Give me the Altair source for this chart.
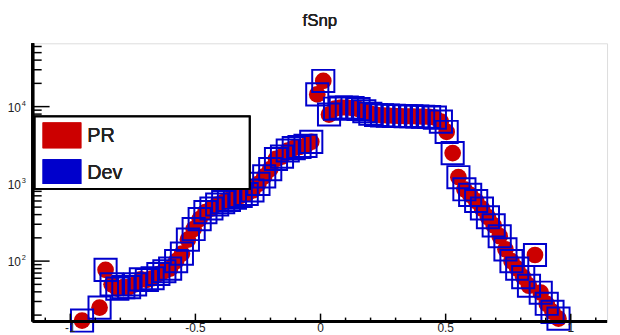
import altair as alt
import pandas as pd

title_text = "fSnp"
series_names = ["PR", "Dev"]
series_colors = ["#cc0000", "#0000cc"]

x_centers = [-0.953, -0.883, -0.859, -0.835, -0.812, -0.788, -0.765, -0.741, -0.718, -0.694,
             -0.671, -0.648, -0.624, -0.601, -0.577, -0.554, -0.530, -0.507, -0.483, -0.460,
             -0.436, -0.413, -0.389, -0.366, -0.342, -0.319, -0.295, -0.272, -0.248, -0.225,
             -0.201, -0.178, -0.154, -0.131, -0.107, -0.084, -0.060, -0.037, -0.013, 0.011,
             0.034, 0.058, 0.081, 0.105, 0.128, 0.152, 0.175, 0.199, 0.222, 0.246,
             0.269, 0.293, 0.316, 0.340, 0.363, 0.387, 0.410, 0.434, 0.457, 0.481,
             0.504, 0.528, 0.551, 0.575, 0.598, 0.622, 0.645, 0.669, 0.692, 0.716,
             0.739, 0.763, 0.786, 0.810, 0.833, 0.857, 0.880, 0.904, 0.927, 0.951]

pr_counts = [17, 25, 77, 50, 44, 46, 46, 50, 58, 57,
             60, 68, 74, 80, 100, 125, 190, 260, 350, 430,
             480, 540, 580, 620, 660, 700, 740, 820, 1000, 1250,
             1550, 2100, 2250, 2700, 2900, 3000, 3100, 3500, 14400, 21500,
             7900, 9400, 9700, 9700, 9600, 9300, 8700, 8100, 7800, 7700,
             7650, 7600, 7550, 7500, 7500, 7450, 7400, 7350, 7200, 6400,
             4700, 2500, 1220, 850, 720, 600, 480, 370, 290, 210,
             142, 100, 80, 62, 48, 120, 39, 28, 22, 18]

dev_counts = list(pr_counts)

x_major = [-1.0, -0.5, 0.0, 0.5, 1.0]
x_major_labels = ["-1", "-0.5", "0", "0.5", "1"]
x_minor = [-1.1, -0.9, -0.8, -0.7, -0.6, -0.4, -0.3, -0.2, -0.1,
           0.1, 0.2, 0.3, 0.4, 0.6, 0.7, 0.8, 0.9, 1.1]
y_major = [100, 1000, 10000]
y_major_exp = ["2", "3", "4"]
y_minor = [20, 30, 40, 50, 60, 70, 80, 90,
           200, 300, 400, 500, 600, 700, 800, 900,
           2000, 3000, 4000, 5000, 6000, 7000, 8000, 9000,
           20000, 30000, 40000, 50000, 60000]

W, H = 580, 281
FONT = "Liberation Sans"
TXT = "#222222"

xs = alt.Scale(domain=[-1.15, 1.145], nice=False, zero=False)
ys = alt.Scale(type="log", domain=[16.5, 66000], nice=False)

pr_df = pd.DataFrame({"x": x_centers, "y": pr_counts})
dev_df = pd.DataFrame({"x": x_centers, "y": dev_counts})

pr_layer = alt.Chart(pr_df).mark_circle(size=285, opacity=1, color=series_colors[0]).encode(
    x=alt.X("x:Q", scale=xs, axis=None),
    y=alt.Y("y:Q", scale=ys, axis=None),
)
dev_layer = alt.Chart(dev_df).mark_point(shape="square", filled=False, size=500, strokeWidth=2,
                                         opacity=1, color=series_colors[1]).encode(
    x=alt.X("x:Q", scale=xs, axis=None),
    y=alt.Y("y:Q", scale=ys, axis=None),
)

xmaj_df = pd.DataFrame({"v": x_major, "t": x_major_labels})
xmin_df = pd.DataFrame({"v": x_minor})
ymaj_df = pd.DataFrame({"v": y_major, "e": y_major_exp})
ymin_df = pd.DataFrame({"v": y_minor})

xmaj_ticks = alt.Chart(xmaj_df).mark_rule(color="black", strokeWidth=1.5).encode(
    x=alt.X("v:Q", scale=xs, axis=None), y=alt.value(H), y2=alt.value(H - 8))
xmin_ticks = alt.Chart(xmin_df).mark_rule(color="black", strokeWidth=1.5).encode(
    x=alt.X("v:Q", scale=xs, axis=None), y=alt.value(H), y2=alt.value(H - 4))
ymaj_ticks = alt.Chart(ymaj_df).mark_rule(color="black", strokeWidth=1.5).encode(
    y=alt.Y("v:Q", scale=ys, axis=None), x=alt.value(0), x2=alt.value(17))
ymin_ticks = alt.Chart(ymin_df).mark_rule(color="black", strokeWidth=1.5).encode(
    y=alt.Y("v:Q", scale=ys, axis=None), x=alt.value(0), x2=alt.value(9))

x_labels = alt.Chart(xmaj_df).mark_text(font=FONT, fontSize=12, baseline="top", align="center",
                                         color=TXT).encode(
    x=alt.X("v:Q", scale=xs, axis=None), y=alt.value(H + 2), text="t:N")
y_labels = alt.Chart(ymaj_df).mark_text(font=FONT, fontSize=12, baseline="middle", align="right",
                                         color=TXT, dy=1).encode(
    y=alt.Y("v:Q", scale=ys, axis=None), x=alt.value(-12), text=alt.value("10"))
y_exps = alt.Chart(ymaj_df).mark_text(font=FONT, fontSize=7.5, baseline="middle", align="left",
                                       color=TXT, dy=-3).encode(
    y=alt.Y("v:Q", scale=ys, axis=None), x=alt.value(-11), text="e:N")

left_line = alt.Chart(ymaj_df).mark_rule(color="black", strokeWidth=3).encode(
    x=alt.value(0), y=alt.value(0), y2=alt.value(H))
bottom_line = alt.Chart(ymaj_df).mark_rule(color="black", strokeWidth=3).encode(
    x=alt.value(0), x2=alt.value(W), y=alt.value(H))

title_mark = alt.Chart(ymaj_df).mark_text(font=FONT, fontSize=17, align="center", baseline="middle",
                                           color=TXT).encode(
    x=alt.value(W / 2), y=alt.value(-22), text=alt.value(title_text))

leg_box = alt.Chart(ymaj_df).mark_rect(fill="white", stroke="black", strokeWidth=2).encode(
    x=alt.value(2), x2=alt.value(219), y=alt.value(74), y2=alt.value(147))
leg_pr_sym = alt.Chart(ymaj_df).mark_rect(color=series_colors[0]).encode(
    x=alt.value(10), x2=alt.value(49), y=alt.value(80), y2=alt.value(106))
leg_dev_sym = alt.Chart(ymaj_df).mark_rect(color=series_colors[1]).encode(
    x=alt.value(10), x2=alt.value(49), y=alt.value(117), y2=alt.value(142))
leg_pr_txt = alt.Chart(ymaj_df).mark_text(font=FONT, fontSize=20, align="left", baseline="middle",
                                           color=TXT).encode(
    x=alt.value(55), y=alt.value(94), text=alt.value(series_names[0]))
leg_dev_txt = alt.Chart(ymaj_df).mark_text(font=FONT, fontSize=20, align="left", baseline="middle",
                                            color=TXT).encode(
    x=alt.value(55), y=alt.value(131), text=alt.value(series_names[1]))

chart = alt.layer(
    pr_layer, dev_layer,
    xmaj_ticks, xmin_ticks, ymaj_ticks, ymin_ticks,
    left_line, bottom_line,
    x_labels, y_labels, y_exps, title_mark,
    leg_box, leg_pr_sym, leg_dev_sym, leg_pr_txt, leg_dev_txt,
).properties(
    width=W, height=H,
    padding={"left": 25, "top": 34, "right": 5, "bottom": 20},
    autosize=alt.AutoSizeParams(type="none"),
).configure_view(
    stroke="black", strokeWidth=2
).configure(background="white")

chart.save("out.html", embed_options={"renderer": "svg", "actions": False})
